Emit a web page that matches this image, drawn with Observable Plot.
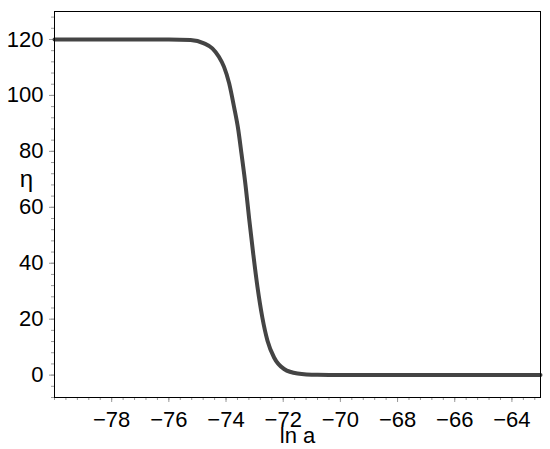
<!DOCTYPE html>
<html>
<head>
<meta charset="utf-8">
<script src="https://cdn.jsdelivr.net/npm/d3@7"></script>
<script src="https://cdn.jsdelivr.net/npm/@observablehq/plot@0.6"></script>
<style>
  html, body { margin: 0; padding: 0; background: #fff; }
  #chart svg { display: block; }
  #chart svg g[aria-label="x-axis tick label"], #chart svg g[aria-label="y-axis tick label"] { font-size: 22px; }
</style>
</head>
<body>
<div id="chart"></div>
<script>
// Values
const lnA = [-80, -76, -75.24, -74.77, -74.48, -74.25, -74.07, -73.89, -73.72, -73.57, -73.46, -73.31, -73.19, -73.05, -72.90, -72.73, -72.55, -72.32, -71.97, -71.5, -70.8, -70, -63];
const eta = [120, 120, 119.8, 118.6, 116.8, 113.8, 110.2, 104.3, 95.9, 87.6, 79.2, 67.2, 55.8, 43.5, 31.5, 20.6, 12.3, 6.3, 2.2, 0.6, 0.1, 0, 0];
const xTicks = [-78, -76, -74, -72, -70, -68, -66, -64];
const yTicks = [0, 20, 40, 60, 80, 100, 120];
const xLabel = "ln a";
const yLabel = "η";

const data = lnA.map((x, i) => ({x, y: eta[i]}));
const xMinor = d3.range(-80, -63 + 1e-9, 0.4);
const yMinor = d3.range(-8, 130 + 1e-9, 4);

const chart = Plot.plot({
  width: 550,
  height: 449,
  marginLeft: 54,
  marginRight: 10,
  marginTop: 11,
  marginBottom: 52,
  style: {fontFamily: "'Liberation Sans', Arial, sans-serif", fontSize: "22px", color: "#000", background: "#fff"},
  x: {domain: [-80, -63]},
  y: {domain: [-8, 130]},
  marks: [
    Plot.axisX(xMinor, {tickSize: 3, text: null, stroke: "#999", label: null}),
    Plot.axisY(yMinor, {tickSize: 3, text: null, stroke: "#999", label: null}),
    Plot.axisX(xTicks, {tickSize: 5, tickPadding: 9, stroke: "#999", fill: "#000", fontSize: 22, label: null}),
    Plot.axisY(yTicks, {tickSize: 5, tickPadding: 6, stroke: "#999", fill: "#000", fontSize: 22, label: null}),
    Plot.line(data, {x: "x", y: "y", stroke: "#444", strokeWidth: 4, curve: "monotone-x", strokeLinecap: "round", strokeLinejoin: "round"}),
    Plot.frame({stroke: "#000", strokeWidth: 1}),
    Plot.text([xLabel], {frameAnchor: "bottom", dy: 45, text: d => d, fontSize: 22, fill: "#000", textAnchor: "middle"}),
    Plot.text([yLabel], {frameAnchor: "left", dx: -28, dy: -25, text: d => d, fontSize: 24, fill: "#000", textAnchor: "middle"})
  ]
});
document.getElementById("chart").appendChild(chart);
</script>
</body>
</html>
